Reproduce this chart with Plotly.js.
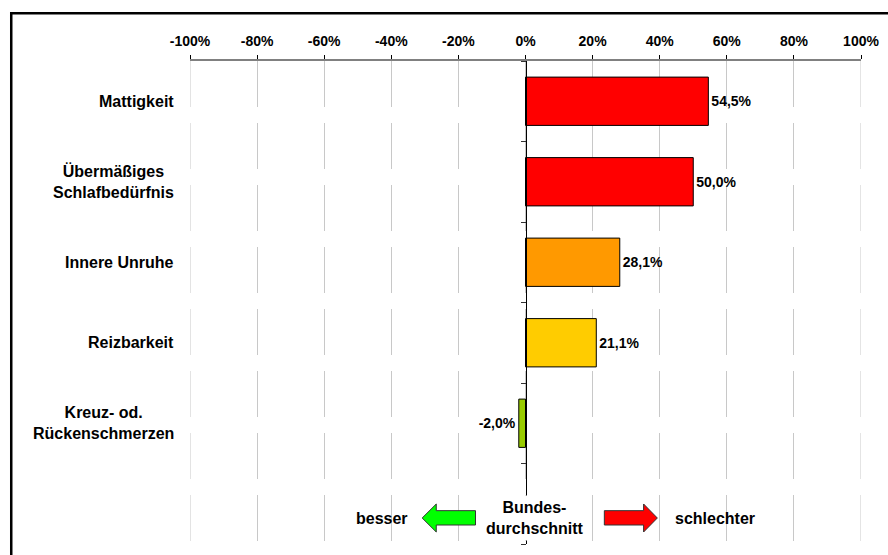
<!DOCTYPE html>
<html><head><meta charset="utf-8">
<script src="https://cdn.plot.ly/plotly-3.0.1.min.js"></script>
<style>html,body{margin:0;padding:0;background:#fff}#chart{width:888px;height:555px}</style>
</head><body><div id="chart"></div>
<script>
const categories = ["Mattigkeit", "Übermäßiges<br>Schlafbedürfnis", "Innere Unruhe", "Reizbarkeit", "Kreuz- od.<br>Rückenschmerzen"];
const values = [54.5, 50.0, 28.1, 21.1, -2.0];
const barColors = ["#FF0000", "#FF0000", "#FF9900", "#FFCC00", "#99CC00"];
const xTickVals = [-100, -80, -60, -40, -20, 0, 20, 40, 60, 80, 100];
const xTickText = ["-100%", "-80%", "-60%", "-40%", "-20%", "0%", "20%", "40%", "60%", "80%", "100%"];
const legendCenter = "Bundes-<br>durchschnitt";
const legendLeft = "besser";
const legendRight = "schlechter";

const FONT = "Liberation Sans, Arial, sans-serif";
const idx = categories.map((c, i) => i);
const labels = values.map(v => v.toFixed(1).replace('.', ',') + '%');

const trace = {
  type: 'bar', orientation: 'h',
  x: values, y: idx,
  width: 0.6,
  marker: {color: barColors, line: {color: '#000', width: 1}},
  text: labels, textposition: 'outside', constraintext: 'none', cliponaxis: false,
  textfont: {family: FONT, size: 14, color: '#000', weight: 'bold'},
  hoverinfo: 'skip'
};

const annotations = categories.map((c, i) => ({
  xref: 'paper', yref: 'y', x: 0, y: i, xanchor: 'right', yanchor: 'middle', xshift: -14,
  text: c, showarrow: false, align: 'center',
  font: {family: FONT, size: 16, color: '#000', weight: 'bold'}
}));
const n = categories.length;
const rowY = n + 0.177;
annotations.push({
  xref: 'x', yref: 'y', x: 2.7, y: rowY, text: legendCenter, showarrow: false, align: 'center',
  bgcolor: '#fff', borderpad: 3, font: {family: FONT, size: 16, color: '#000', weight: 'bold'}
});
annotations.push({
  xref: 'x', yref: 'y', x: -34.3, y: rowY, xanchor: 'right', text: legendLeft, showarrow: false,
  font: {family: FONT, size: 16, color: '#000', weight: 'bold'}
});
annotations.push({
  xref: 'x', yref: 'y', x: 44.1, y: rowY, xanchor: 'left', text: legendRight, showarrow: false,
  font: {family: FONT, size: 16, color: '#000', weight: 'bold'}
});

const yT = n + 0.003, yB = n + 0.351, yb1 = n + 0.086, yb2 = n + 0.264;
const greenArrow = `M -30.8 ${(yT+yB)/2} L -26.6 ${yT} L -26.6 ${yb1} L -14.9 ${yb1} L -14.9 ${yb2} L -26.6 ${yb2} L -26.6 ${yB} Z`;
const redArrow = `M 39.3 ${(yT+yB)/2} L 35.2 ${yT} L 35.2 ${yb1} L 23.5 ${yb1} L 23.5 ${yb2} L 35.2 ${yb2} L 35.2 ${yB} Z`;

const edgeGrid = [xTickVals[0], xTickVals[xTickVals.length - 1]].map(xv => ({
  type: 'line', xref: 'x', yref: 'y', x0: xv, x1: xv, y0: -0.5, y1: n + 0.5,
  line: {color: '#c8c8c8', width: 1, dash: '46px,16px'}, layer: 'below'
}));

const shapes = [
  {type: 'rect', xref: 'paper', yref: 'paper', x0: -0.2664, x1: 1.3, y0: -0.3, y1: 1.0989,
   line: {color: '#000', width: 2.5}, fillcolor: 'rgba(0,0,0,0)'},
  ...edgeGrid,
  {type: 'path', xref: 'x', yref: 'y', path: greenArrow, fillcolor: '#00FF00', line: {color: '#333', width: 1}, layer: 'above'},
  {type: 'path', xref: 'x', yref: 'y', path: redArrow, fillcolor: '#FF0000', line: {color: '#333', width: 1}, layer: 'above'}
];

const tickBounds = [];
for (let i = 0; i <= n + 1; i++) tickBounds.push(i - 0.5);

const layout = {
  width: 888, height: 555,
  margin: {l: 190, r: 27, t: 61, b: 11},
  paper_bgcolor: '#fff', plot_bgcolor: '#fff',
  showlegend: false,
  xaxis: {
    side: 'top', range: [-100, 100], tickvals: xTickVals, ticktext: xTickText,
    tickfont: {family: FONT, size: 14, color: '#000', weight: 'bold'},
    ticklabelstandoff: 3,
    showline: true, linecolor: '#808080', linewidth: 2,
    ticks: 'outside', ticklen: 4, tickcolor: '#000', tickwidth: 1,
    showgrid: true, gridcolor: '#c8c8c8', gridwidth: 1, griddash: '46px,16px',
    zeroline: false, fixedrange: true
  },
  yaxis: {
    range: [n + 0.5, -0.5], anchor: 'free', position: 0.5,
    tickvals: tickBounds, showticklabels: false,
    ticks: 'outside', ticklen: 5, tickcolor: '#333', tickwidth: 1,
    showline: true, linecolor: '#000', linewidth: 1.5,
    showgrid: false, zeroline: false, fixedrange: true
  },
  annotations: annotations,
  shapes: shapes
};

Plotly.newPlot('chart', [trace], layout, {displayModeBar: false, staticPlot: true});
</script>
</body></html>
